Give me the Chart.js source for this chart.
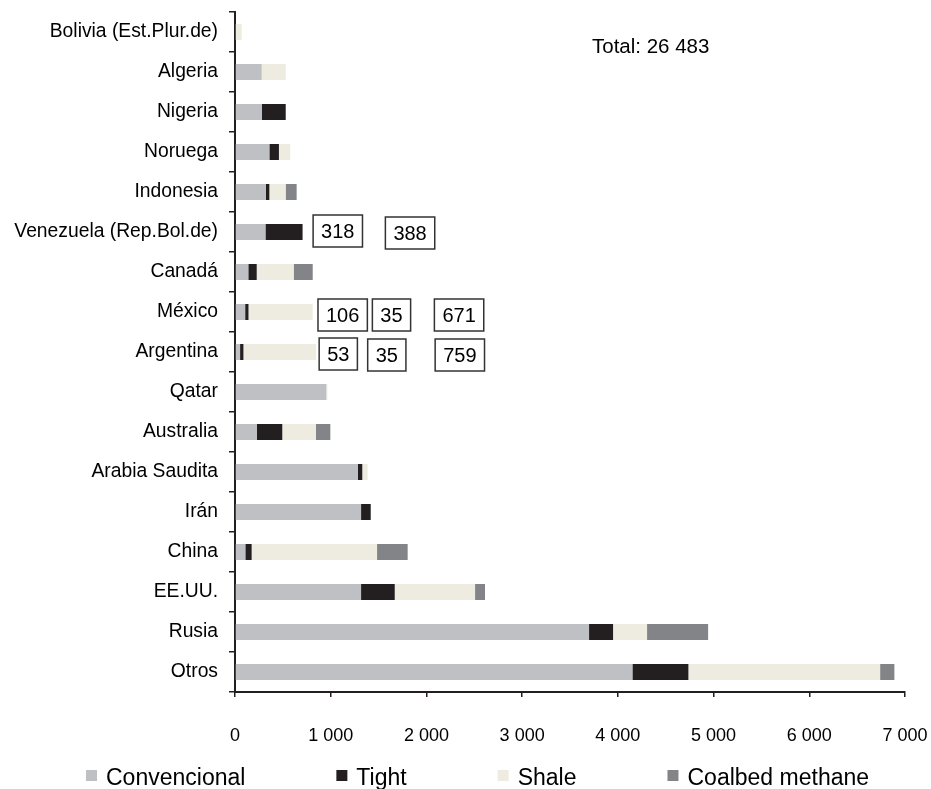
<!DOCTYPE html>
<html>
<head>
<meta charset="utf-8">
<script src="https://cdn.jsdelivr.net/npm/chart.js@4.4.1/dist/chart.umd.min.js"></script>
<style>
  body { margin: 0; background: #fff; }
  #wrap { width: 931px; height: 789px; position: relative; }
</style>
</head>
<body>
<div id="wrap"><canvas id="gasChart"></canvas></div>
<script>
// values
const countries = ['Bolivia (Est.Plur.de)', 'Algeria', 'Nigeria', 'Noruega', 'Indonesia',
    'Venezuela (Rep.Bol.de)', 'Canadá', 'México', 'Argentina', 'Qatar', 'Australia',
    'Arabia Saudita', 'Irán', 'China', 'EE.UU.', 'Rusia', 'Otros'];
const convencional = [0, 279, 279, 359, 324, 318, 139, 106, 53, 955, 227, 1285, 1317, 108, 1317, 3699, 4152];
const tight        = [0, 0, 251, 100, 35, 388, 88, 35, 35, 0, 267, 45, 101, 66, 352, 251, 585];
const shale        = [70, 251, 0, 118, 170, 0, 386, 671, 759, 10, 352, 56, 0, 1310, 839, 355, 2003];
const coalbed      = [0, 0, 0, 0, 115, 0, 199, 0, 0, 0, 150, 0, 0, 320, 104, 638, 149];
const xTicks = [0, 1000, 2000, 3000, 4000, 5000, 6000, 7000];
const total = 26483;

const FONT = "'Liberation Sans', Arial, sans-serif";
const INK = '#231f20';

function fmt(v) {
    return String(v).replace(/\B(?=(\d{3})+(?!\d))/g, ' ');
}

// boxed value labels: category index, x position (axis units), value shown
const notes = [
    { cat: 5, x: 1074, dy: -1, value: convencional[5] },
    { cat: 5, x: 1829, dy: 1, value: tight[5] },
    { cat: 7, x: 1125, dy: 3, value: convencional[7] },
    { cat: 7, x: 1635, dy: 3, value: tight[7] },
    { cat: 7, x: 2341, dy: 3, value: shale[7] },
    { cat: 8, x: 1079, dy: 2, value: convencional[8] },
    { cat: 8, x: 1586, dy: 3, value: tight[8] },
    { cat: 8, x: 2349, dy: 3, value: shale[8] }
];

const extras = {
    id: 'extras',
    afterDraw(chart) {
        const c = chart.ctx;
        const xs = chart.scales.x, ys = chart.scales.y;
        c.save();

        // total
        c.fillStyle = '#000';
        c.font = '20.5px ' + FONT;
        c.textAlign = 'left';
        c.textBaseline = 'alphabetic';
        c.fillText('Total: ' + fmt(total), 592, 53);

        // boxed numbers
        c.font = '20px ' + FONT;
        c.textAlign = 'center';
        c.textBaseline = 'middle';
        notes.forEach(n => {
            const txt = String(n.value);
            const w = c.measureText(txt).width + 16;
            const h = 32;
            const cx = xs.getPixelForValue(n.x);
            const cy = ys.getPixelForValue(n.cat) + n.dy;
            c.fillStyle = '#fff';
            c.fillRect(cx - w / 2, cy - h / 2, w, h);
            c.strokeStyle = '#333';
            c.lineWidth = 1.5;
            c.strokeRect(cx - w / 2, cy - h / 2, w, h);
            c.fillStyle = '#000';
            c.fillText(txt, cx, cy + 1);
        });

        // legend
        c.font = '23px ' + FONT;
        c.textAlign = 'left';
        c.textBaseline = 'alphabetic';
        let lx = 86;
        chart.data.datasets.forEach(ds => {
            c.fillStyle = ds.backgroundColor;
            c.fillRect(lx, 770, 11, 11);
            c.fillStyle = '#000';
            c.fillText(ds.label, lx + 20, 785);
            lx += 20 + c.measureText(ds.label).width + 91;
        });
        c.restore();
    }
};

const ctx = document.getElementById('gasChart').getContext('2d');
const gasChart = new Chart(ctx, {
    type: 'bar',
    data: {
        labels: countries,
        datasets: [
            { label: 'Convencional', data: convencional, backgroundColor: '#bfc0c3' },
            { label: 'Tight', data: tight, backgroundColor: INK },
            { label: 'Shale', data: shale, backgroundColor: '#eeece1' },
            { label: 'Coalbed methane', data: coalbed, backgroundColor: '#838487' }
        ]
    },
    options: {
        indexAxis: 'y',
        responsive: true,
        maintainAspectRatio: false,
        animation: false,
        datasets: {
            bar: { categoryPercentage: 1, barPercentage: 0.4, borderWidth: 0 }
        },
        layout: { padding: { left: 0, right: 26, top: 12, bottom: 0 } },
        plugins: {
            legend: { display: false },
            tooltip: { enabled: false }
        },
        scales: {
            x: {
                stacked: true,
                min: 0,
                max: 7000,
                afterBuildTicks: function(scale) {
                    scale.ticks = xTicks.map(v => ({ value: v }));
                },
                afterFit: function(scale) {
                    scale.height = 97;
                    scale.paddingLeft = 0;
                    scale.paddingRight = 0;
                },
                border: { display: true, color: INK, width: 2 },
                grid: { drawOnChartArea: false, drawTicks: true, tickLength: 5, color: INK, lineWidth: 1.5 },
                ticks: {
                    color: '#000',
                    padding: 28,
                    maxRotation: 0,
                    font: { family: FONT, size: 18 },
                    callback: function(value) { return fmt(value); }
                }
            },
            y: {
                stacked: true,
                afterFit: function(scale) {
                    scale.width = 235;
                    scale.paddingTop = 0;
                    scale.paddingBottom = 0;
                },
                border: { display: true, color: INK, width: 2 },
                grid: { drawOnChartArea: false, drawTicks: true, tickLength: 6, color: INK, lineWidth: 1.5 },
                ticks: {
                    color: '#000',
                    padding: 11,
                    autoSkip: false,
                    font: { family: FONT, size: 19.3 }
                }
            }
        }
    },
    plugins: [extras]
});
</script>
</body>
</html>
